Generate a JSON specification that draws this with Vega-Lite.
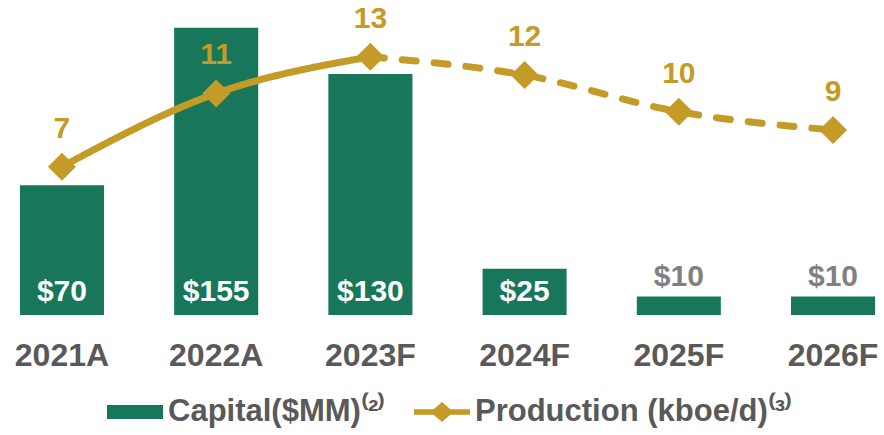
{
  "$schema": "https://vega.github.io/schema/vega-lite/v6.json",
  "width": 873,
  "height": 315,
  "autosize": {"type": "none"},
  "padding": {"left": 11, "top": 0, "right": 0, "bottom": 120},
  "config": {
    "view": {"stroke": null},
    "font": "Liberation Sans",
    "axisX": {"domain": false, "ticks": false, "grid": false, "title": null, "labelFont": "Liberation Sans", "labelFontSize": 32, "labelFontWeight": "bold", "labelColor": "#595959", "labelPadding": 25, "labelAngle": 0}
  },
  "datasets": {
    "capital": [
      {"year": "2021A", "capital": 70, "series": "Capital($MM)⁽²⁾"},
      {"year": "2022A", "capital": 155, "series": "Capital($MM)⁽²⁾"},
      {"year": "2023F", "capital": 130, "series": "Capital($MM)⁽²⁾"},
      {"year": "2024F", "capital": 25, "series": "Capital($MM)⁽²⁾"},
      {"year": "2025F", "capital": 10, "series": "Capital($MM)⁽²⁾"},
      {"year": "2026F", "capital": 10, "series": "Capital($MM)⁽²⁾"}
    ],
    "production": [
      {"year": "2021A", "production": 7},
      {"year": "2022A", "production": 11},
      {"year": "2023F", "production": 13},
      {"year": "2024F", "production": 12},
      {"year": "2025F", "production": 10},
      {"year": "2026F", "production": 9}
    ],
    "prodLine": [
      {"year": "2021A", "production": 7, "segment": "actual"},
      {"year": "2022A", "production": 11, "segment": "actual"},
      {"year": "2023F", "production": 13, "segment": "actual"},
      {"year": "2023F", "production": 13, "segment": "forecast"},
      {"year": "2024F", "production": 12, "segment": "forecast"},
      {"year": "2025F", "production": 10, "segment": "forecast"},
      {"year": "2026F", "production": 9, "segment": "forecast"}
    ]
  },
  "encoding": {
    "x": {"field": "year", "type": "nominal", "scale": {"domain": ["2021A", "2022A", "2023F", "2024F", "2025F", "2026F"], "paddingInner": 0.455, "paddingOuter": 0.058}}
  },
  "layer": [
    {
      "data": {"name": "capital"},
      "encoding": {
        "y": {"field": "capital", "type": "quantitative", "scale": {"domain": [0, 170], "nice": false}, "axis": null}
      },
      "layer": [
        {
          "mark": {"type": "bar"},
          "encoding": {
            "color": {
              "field": "series", "type": "nominal",
              "scale": {"domain": ["Capital($MM)⁽²⁾", "Production (kboe/d)⁽³⁾"], "range": ["#18775A", "#C49B26"]},
              "legend": {
                "title": null, "orient": "none", "legendX": 96, "legendY": 384, "direction": "horizontal",
                "labelFont": "Liberation Sans", "labelFontSize": 31, "labelFontWeight": "bold", "labelColor": "#595959",
                "labelLimit": 500, "labelOffset": 5, "columnPadding": 28, "symbolSize": 3136,
                "encode": {
                  "symbols": {
                    "update": {
                      "shape": {"signal": "datum.value == 'Capital($MM)⁽²⁾' ? 'M-1,-0.25H1V0.25H-1Z' : 'M-1,-0.1H-0.3L0,-0.36L0.3,-0.1H1V0.1H0.3L0,0.36L-0.3,0.1H-1Z'"},
                      "fill": {"signal": "datum.value == 'Capital($MM)⁽²⁾' ? '#18775A' : '#C49B26'"},
                      "strokeWidth": {"value": 0},
                      "opacity": {"value": 1},
                      "size": {"value": 3136}
                    }
                  }
                }
              }
            }
          }
        },
        {
          "transform": [{"filter": "datum.capital >= 20"}],
          "mark": {"type": "text", "color": "#FFFFFF", "fontSize": 30, "fontWeight": "bold", "baseline": "middle", "dy": -23},
          "encoding": {
            "y": {"datum": 0},
            "text": {"field": "capital", "type": "quantitative", "format": "$.0f"}
          }
        },
        {
          "transform": [{"filter": "datum.capital < 20"}],
          "mark": {"type": "text", "color": "#808080", "fontSize": 30, "fontWeight": "bold", "baseline": "middle", "dy": -19},
          "encoding": {
            "text": {"field": "capital", "type": "quantitative", "format": "$.0f"}
          }
        }
      ]
    },
    {
      "layer": [
        {
          "data": {"name": "prodLine"},
          "mark": {"type": "line", "color": "#C49B26", "strokeWidth": 7, "strokeCap": "round", "interpolate": "monotone"},
          "encoding": {
            "y": {"field": "production", "type": "quantitative", "scale": {"domain": [-1.1, 16.1], "nice": false, "zero": false}, "axis": null},
            "strokeDash": {"field": "segment", "type": "nominal", "scale": {"domain": ["actual", "forecast"], "range": [[1, 0], [14, 18]]}, "legend": null}
          }
        },
        {
          "data": {"name": "production"},
          "mark": {"type": "point", "shape": "diamond", "filled": true, "size": 784, "color": "#C49B26", "opacity": 1},
          "encoding": {
            "y": {"field": "production", "type": "quantitative"}
          }
        },
        {
          "data": {"name": "production"},
          "mark": {"type": "text", "color": "#C49B26", "fontSize": 30, "fontWeight": "bold", "baseline": "middle", "dy": -38},
          "encoding": {
            "y": {"field": "production", "type": "quantitative"},
            "text": {"field": "production", "type": "quantitative"}
          }
        }
      ]
    }
  ],
  "resolve": {"scale": {"y": "independent"}}
}
